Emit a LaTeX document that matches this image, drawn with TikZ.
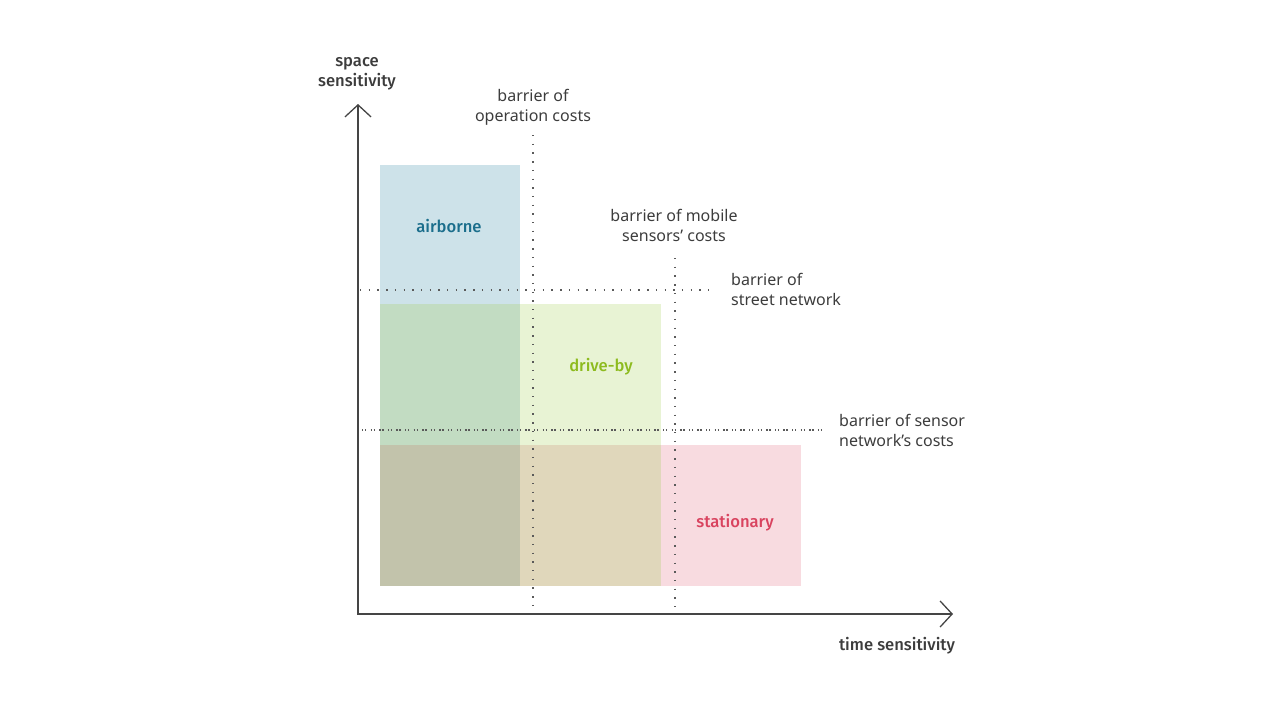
\documentclass[tikz,border=0pt]{standalone}
\usepackage{fontspec}
\setmainfont{Noto Sans}
\newfontfamily\medfont{Fira Sans Medium}
\usetikzlibrary{arrows.meta}
\definecolor{axisgray}{HTML}{454545}
\definecolor{txtgray}{HTML}{3C3C3C}
\definecolor{dotgray}{HTML}{5A5A5A}
\definecolor{cblue}{HTML}{CDE2E9}
\definecolor{cbluegreen}{HTML}{C2DCC2}
\definecolor{cgreen}{HTML}{E8F3D4}
\definecolor{cpink}{HTML}{F8DBE0}
\definecolor{cgreenpink}{HTML}{E0D7BB}
\definecolor{call}{HTML}{C2C3AB}
\definecolor{tairborne}{HTML}{1B6E8C}
\definecolor{tdriveby}{HTML}{8DBB1E}
\definecolor{tstationary}{HTML}{D9435F}
\tikzset{
  axisline/.style={draw=axisgray, line width=1.3pt, -{Straight Barb[length=12pt,width=26pt,line width=1.3pt]}},
  dotline/.style={draw=dotgray, line width=1.4pt, dash pattern=on 1.4pt off 7.3pt},
  dotpair/.style={draw=dotgray, line width=1.4pt, dash pattern=on 1.4pt off 1.6pt on 1.4pt off 4.2pt},
  barrier/.style={text=txtgray, font=\fontsize{16}{20}\selectfont, inner sep=0pt},
  axislabel/.style={text=txtgray, font=\fontsize{16.6}{20}\selectfont\medfont, inner sep=0pt, align=center},
  catlabel/.style={font=\fontsize{16.6}{20}\selectfont\medfont, inner sep=0pt},
}
\begin{document}
\begin{tikzpicture}[x=1pt, y=-1pt]
\useasboundingbox (0,0) rectangle (1280,720);
% regions
\fill[cblue] (380,165) rectangle (520,304);
\fill[cbluegreen] (380,304) rectangle (520,445);
\fill[cgreen] (520,304) rectangle (661,445);
\fill[call] (380,445) rectangle (520,586);
\fill[cgreenpink] (520,445) rectangle (661,586);
\fill[cpink] (661,445) rectangle (801,586);
% category labels
\node[catlabel, text=tairborne] (airborne) at (449,226) {airborne};
\node[catlabel, text=tdriveby] (driveby) at (601,367) {drive-by};
\node[catlabel, text=tstationary] (stationary) at (735,523) {stationary};
% barrier lines
\coordinate (v1top) at (533,135);
\coordinate (v1bot) at (533,614);
\coordinate (v2top) at (675,258);
\coordinate (v2bot) at (675,614);
\coordinate (h1l) at (360,290);
\coordinate (h1r) at (710,290);
\coordinate (h2l) at (362,430);
\coordinate (h2r) at (826,430);
\draw[dotline] (v1top) -- (v1bot);
\draw[dotline] (v2top) -- (v2bot);
\draw[dotline] (h1l) -- (h1r);
\draw[dotpair] (h2l) -- (h2r);
% barrier labels
\node[barrier, align=center] (bop) at (533,107) {barrier of\\operation costs};
\node[barrier, align=center] (bmob) at (674,225) {barrier of mobile\\sensors’ costs};
\node[barrier, align=left, anchor=west] (bstreet) at (731,289) {barrier of\\street network};
\node[barrier, align=left, anchor=west] (bsensor) at (839,430) {barrier of sensor\\network’s costs};
% axes
\coordinate (O) at (358,614);
\coordinate (ytop) at (358,104);
\coordinate (xend) at (953,614);
\draw[axisline] (O) -- (ytop);
\draw[axisline] ([xshift=-0.65pt]O) -- (xend);
\node[axislabel] (ylab) at (357,74) {space\\sensitivity};
\node[axislabel] (xlab) at (897,646) {time sensitivity};
\end{tikzpicture}
\end{document}
